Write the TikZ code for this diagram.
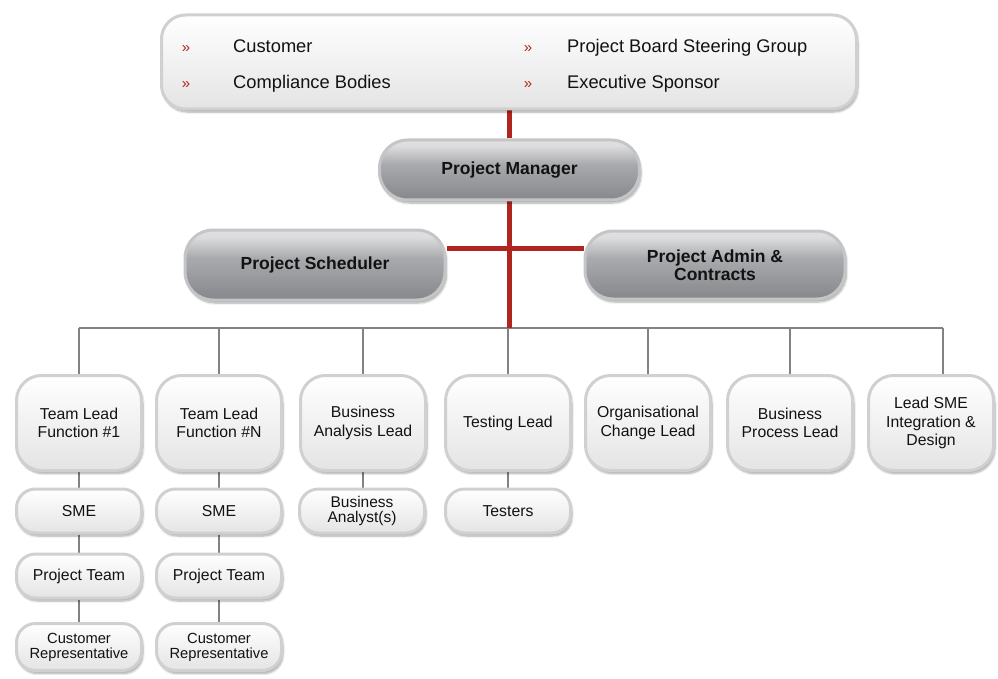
\documentclass[tikz,border=0pt]{standalone}
\usepackage{fontspec}
\setmainfont{Liberation Sans}
\usetikzlibrary{shadows.blur}
\definecolor{redline}{HTML}{B0261E}
\definecolor{busgray}{HTML}{818285}
\definecolor{lboxborder}{HTML}{D0D0D1}
\definecolor{lboxbottom}{HTML}{E4E4E5}
\definecolor{gborder}{HTML}{C4C5C7}
\definecolor{ga}{HTML}{F3F3F4}
\definecolor{gb}{HTML}{DCDCDE}
\definecolor{gc}{HTML}{A9AAAD}
\definecolor{gd}{HTML}{8C8D91}
\definecolor{ge}{HTML}{707176}
\definecolor{txt}{HTML}{121212}
\pgfdeclareverticalshading{glossgray}{100bp}{color(0bp)=(ge); color(30bp)=(gd); color(55bp)=(gc); color(70bp)=(gb); color(100bp)=(ga)}
\pgfdeclarelayer{bg}
\pgfsetlayers{bg,main}
\begin{document}
\begin{tikzpicture}[x=1pt,y=-1pt,
  shad/.style={blur shadow={shadow blur steps=6, shadow xshift=1.5pt, shadow yshift=-3pt, shadow opacity=35}},
  lightbox/.style={shad, draw=lboxborder, line width=3pt, top color=white, bottom color=lboxbottom,
     rounded corners=#1, align=center, text=txt, inner sep=2pt},
  lightbox/.default=22pt,
  bigbox/.style={lightbox=25pt, minimum width=125pt, minimum height=95pt,
     font={\fontsize{15.8}{18.5}\selectfont}},
  smallbox/.style={lightbox=19pt, minimum width=125pt, minimum height=44pt,
     font={\fontsize{15.8}{15.5}\selectfont}},
  glossbox/.style={shad, draw=gborder, line width=3pt, shading=glossgray, rounded corners=28pt,
     minimum width=260pt, align=center, text=txt, font={\bfseries\fontsize{17.5}{17.5}\selectfont}},
  redl/.style={draw=redline, line width=5pt},
  grayl/.style={draw=busgray, line width=2.4pt},
  bullet/.style={text=redline, font={\fontsize{15}{15}\selectfont}, anchor=base, inner sep=0pt},
  toptext/.style={text=txt, font={\fontsize{18.3}{18.3}\selectfont}, anchor=base west, inner sep=0pt}
]
\useasboundingbox (0,0) rectangle (998,679);

% top box
\node[lightbox=24pt, minimum width=695pt, minimum height=94pt] (top) at (509,62) {};
\node[bullet] (b1) at (186,53) {»};
\node[bullet] (b2) at (186,89) {»};
\node[bullet] (b3) at (528,53) {»};
\node[bullet] (b4) at (528,89) {»};
\node[toptext] (t1) at (233,53) {Customer};
\node[toptext] (t2) at (233,89) {Compliance Bodies};
\node[toptext] (t3) at (567,53) {Project Board Steering Group};
\node[toptext] (t4) at (567,89) {Executive Sponsor};

% glossy boxes
\node[glossbox, minimum height=60pt] (pm) at (509.5,170) {Project Manager};
\node[glossbox, minimum height=70pt] (sched) at (315,265) {Project Scheduler};
\node[glossbox, minimum height=68pt] (admin) at (715,265) {Project Admin \&\\Contracts};

% bus coordinates
\coordinate (busL) at (79,328);
\coordinate (busR) at (943,328);
\coordinate (rj) at (509,248);

% row 1
\node[bigbox] (l1) at (79,423) {Team Lead\\Function \#1};
\node[bigbox] (l2) at (219,423) {Team Lead\\Function \#N};
\node[bigbox] (l3) at (363,423) {Business\\Analysis Lead};
\node[bigbox] (l4) at (508,423) {Testing Lead};
\node[bigbox] (l5) at (648,423) {Organisational\\Change Lead};
\node[bigbox] (l6) at (790,423) {Business\\Process Lead};
\node[bigbox] (l7) at (931,423) {Lead SME\\Integration \&\\Design};

% row 2
\node[smallbox] (s1) at (79,511) {SME};
\node[smallbox] (s2) at (219,511) {SME};
\node[smallbox, font={\fontsize{15.5}{15}\selectfont}] (s3) at (362,511) {Business\\Analyst(s)};
\node[smallbox] (s4) at (508,511) {Testers};

% row 3
\node[smallbox] (p1) at (79,576) {Project Team};
\node[smallbox] (p2) at (219,576) {Project Team};

% row 4
\node[smallbox, minimum height=47pt, font={\fontsize{14.7}{15}\selectfont}] (c1) at (79,647) {Customer\\Representative};
\node[smallbox, minimum height=47pt, font={\fontsize{14.7}{15}\selectfont}] (c2) at (219,647) {Customer\\Representative};

\begin{pgfonlayer}{bg}
  \draw[grayl] (busL) -- (busR);
  \draw[grayl] (busL) -- (l1.north);
  \draw[grayl] (l2.north |- busL) -- (l2.north);
  \draw[grayl] (l3.north |- busL) -- (l3.north);
  \draw[grayl] (l4.north |- busL) -- (l4.north);
  \draw[grayl] (l5.north |- busL) -- (l5.north);
  \draw[grayl] (l6.north |- busL) -- (l6.north);
  \draw[grayl] (busR) -- (busR |- l7.north);
  \draw[grayl] (l1.south) -- (s1.north);
  \draw[grayl] (s1.south) -- (p1.north);
  \draw[grayl] (p1.south) -- (c1.north);
  \draw[grayl] (l2.south) -- (s2.north);
  \draw[grayl] (s2.south) -- (p2.north);
  \draw[grayl] (p2.south) -- (c2.north);
  \draw[grayl] (l3.south) -- (l3.south |- s3.north);
  \draw[grayl] (l4.south) -- (s4.north);
  \draw[redl] (top.south -| rj) -- (pm.north -| rj);
  \draw[redl] (pm.south -| rj) -- (busL -| rj);
  \draw[redl] (sched.east |- rj) -- (admin.west |- rj);
\end{pgfonlayer}
\end{tikzpicture}
\end{document}
